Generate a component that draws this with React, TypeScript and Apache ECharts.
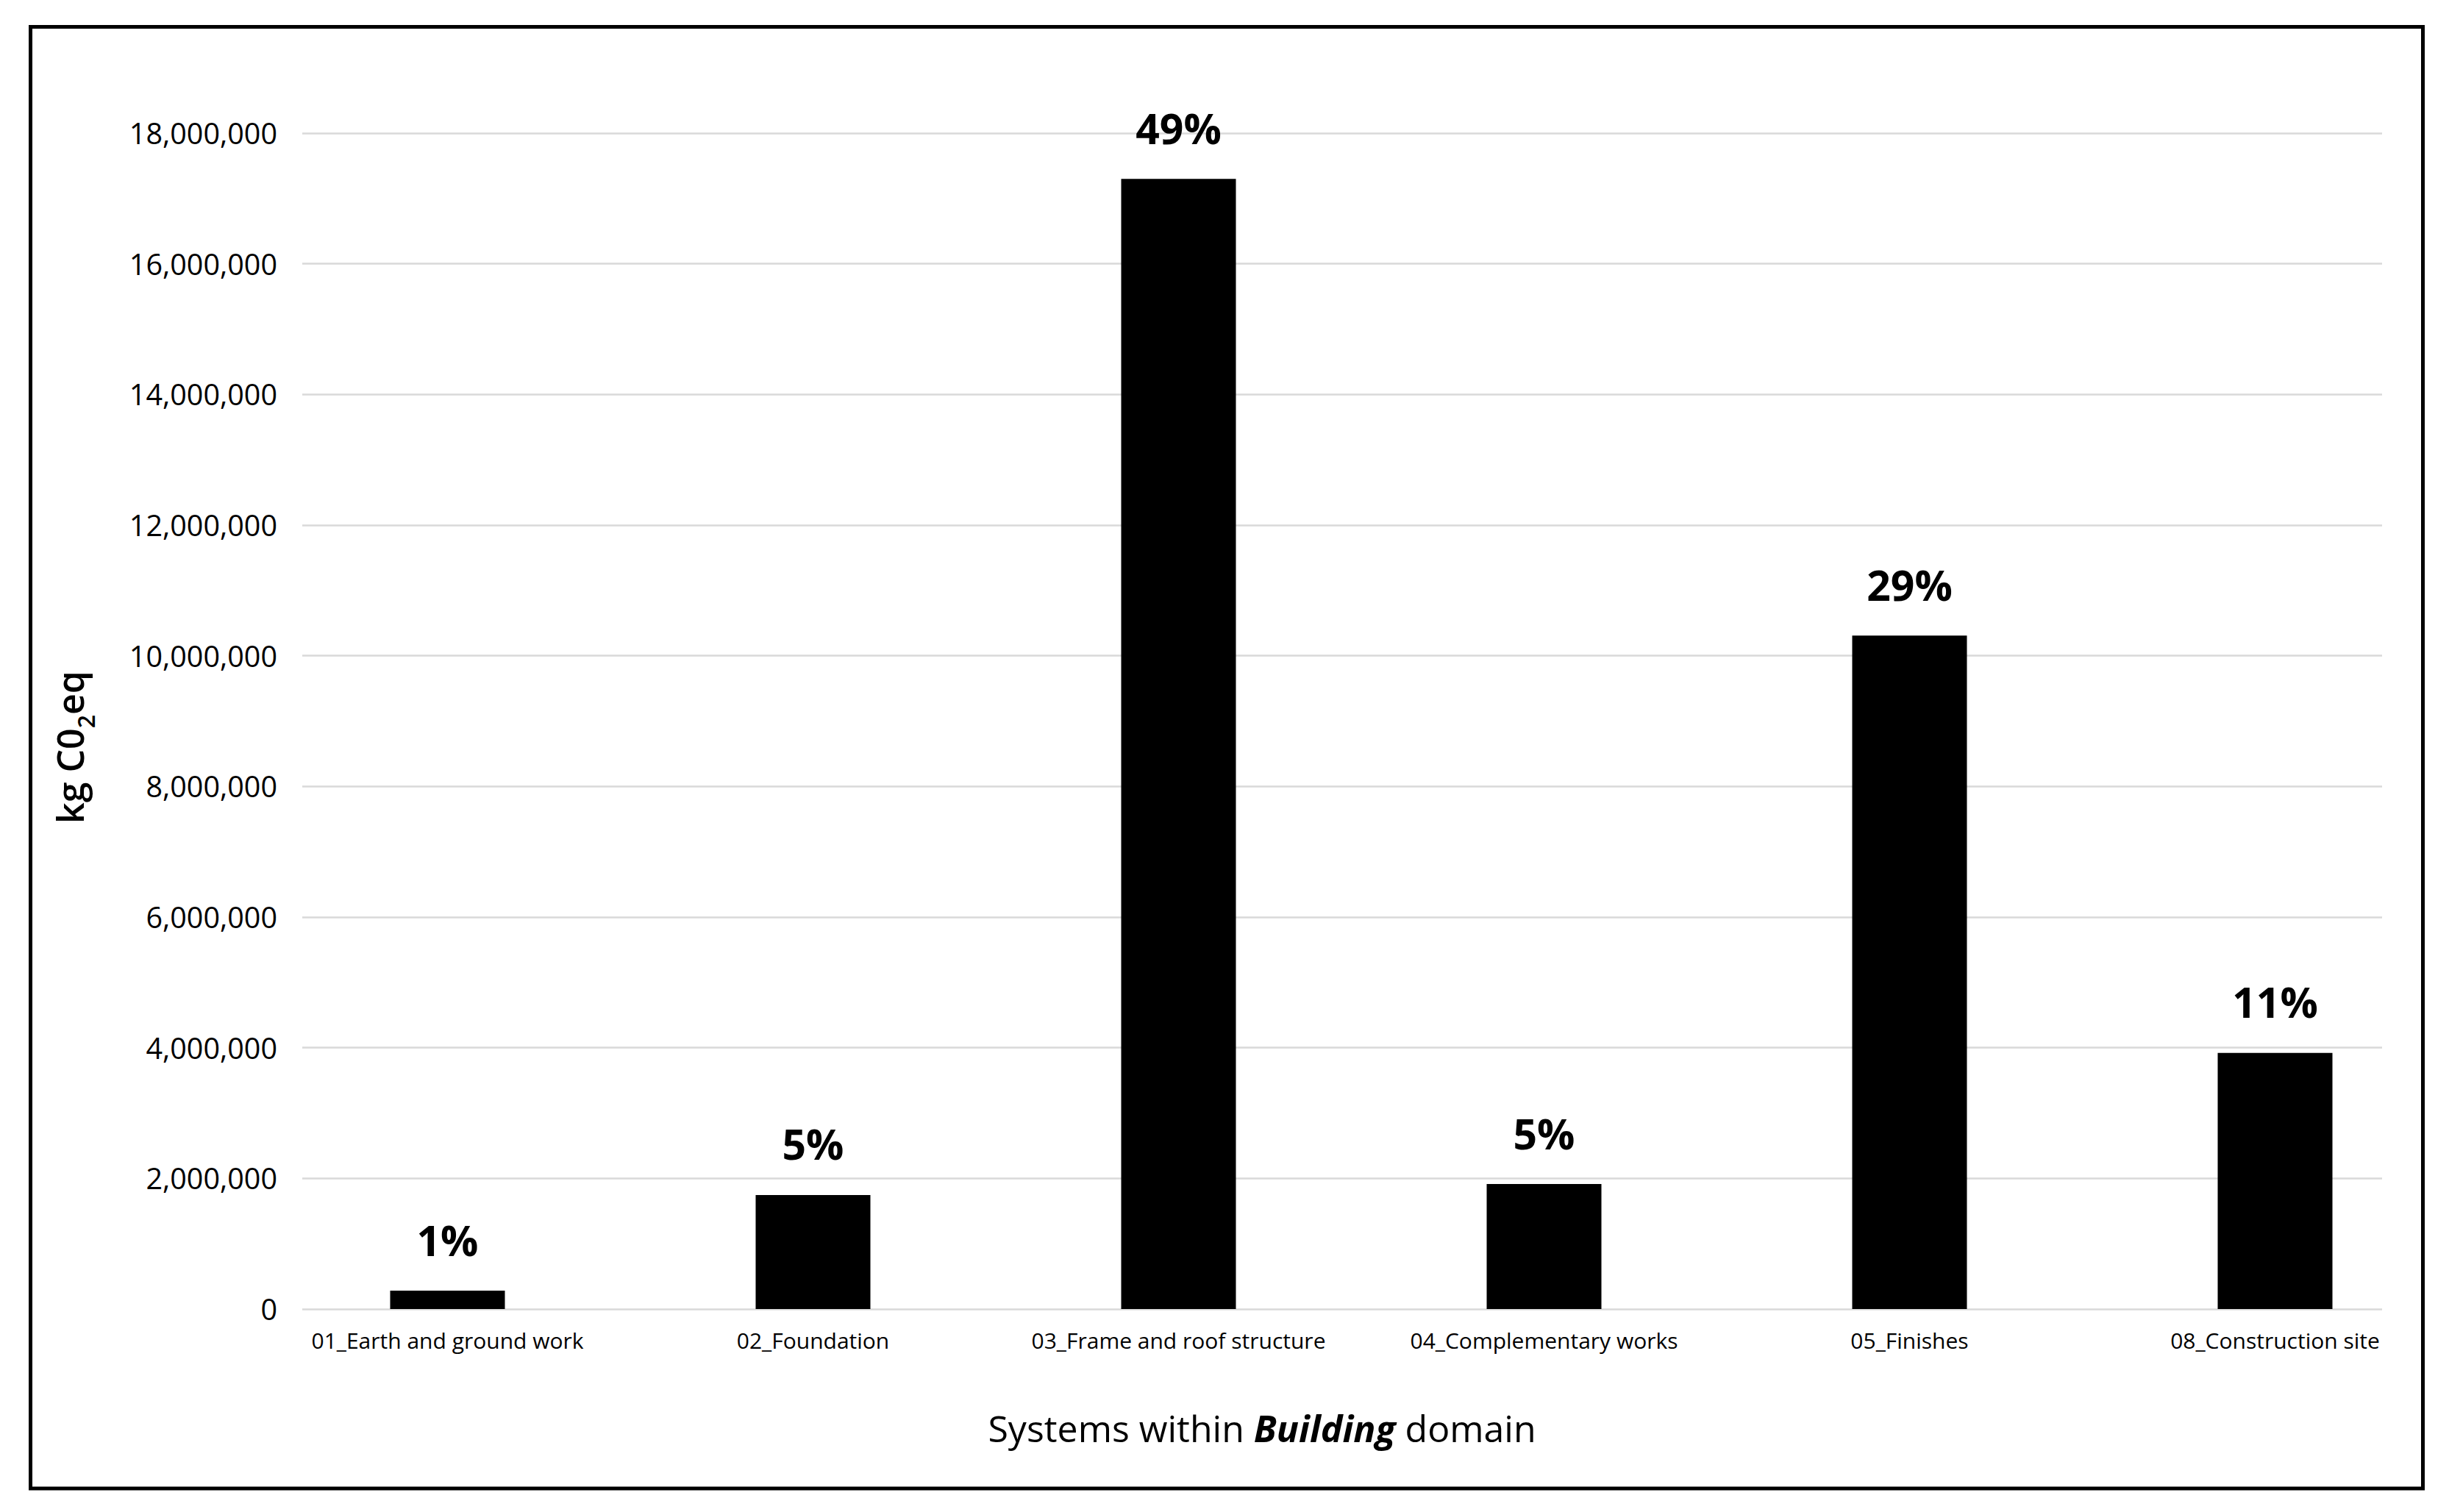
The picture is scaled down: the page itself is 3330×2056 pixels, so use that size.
import React, { useEffect, useRef } from "react";
import * as echarts from "echarts";

const categories = [
  "01_Earth and ground work",
  "02_Foundation",
  "03_Frame and roof structure",
  "04_Complementary works",
  "05_Finishes",
  "08_Construction site",
];
const values = [281000, 1745000, 17300000, 1913000, 10310000, 3920000];
const shareLabels = ["1%", "5%", "49%", "5%", "29%", "11%"];
const yMin = 0;
const yMax = 18000000;
const yInterval = 2000000;

const FONT = "'Open Sans', 'Noto Sans', sans-serif";

export default function App() {
  const ref = useRef<HTMLDivElement>(null);
  useEffect(() => {
    document.body.style.margin = "0";
    document.body.style.overflow = "hidden";
    const chart = echarts.init(ref.current!, null, { renderer: "svg" });
    const gridTop = 181;
    const gridBottom = 276;
    chart.setOption({
      animation: false,
      backgroundColor: "#ffffff",
      textStyle: { fontFamily: FONT },
      grid: [
        { left: 411, width: 2828, top: gridTop, bottom: gridBottom, containLabel: false },
        { left: 360, width: 2982, top: gridTop, bottom: gridBottom, containLabel: false },
      ],
      xAxis: [
        {
          type: "category",
          gridIndex: 0,
          data: categories,
          show: false,
        },
        {
          type: "category",
          gridIndex: 1,
          data: categories,
          axisLine: { show: false },
          axisTick: { show: false },
          axisLabel: {
            margin: 27,
            fontSize: 30,
            color: "#000",
            fontFamily: FONT,
            interval: 0,
          },
        },
      ],
      yAxis: [
        {
          type: "value",
          gridIndex: 0,
          min: yMin,
          max: yMax,
          interval: yInterval,
          axisLine: { show: false },
          axisTick: { show: false },
          axisLabel: {
            margin: 34,
            fontSize: 39.5,
            color: "#000",
            fontFamily: FONT,
            formatter: (v: number) => v.toLocaleString("en-US"),
          },
          splitLine: { show: true, lineStyle: { color: "#d9d9d9", width: 2.5 } },
        },
        {
          type: "value",
          gridIndex: 1,
          min: yMin,
          max: yMax,
          interval: yInterval,
          show: false,
          splitLine: { show: false },
        },
      ],
      series: [
        {
          type: "bar",
          xAxisIndex: 1,
          yAxisIndex: 1,
          data: values,
          barWidth: 156,
          itemStyle: { color: "#000000" },
          label: {
            show: true,
            position: "top",
            distance: 41,
            fontSize: 57,
            fontWeight: "bold",
            color: "#000",
            fontFamily: FONT,
            formatter: (p: any) => shareLabels[p.dataIndex],
          },
        },
      ],
      graphic: [
        {
          type: "rect",
          z: -1,
          shape: { x: 41.5, y: 36.5, width: 3253, height: 1987.5 },
          style: { fill: "none", stroke: "#000", lineWidth: 5 },
        },
        {
          type: "text",
          x: 1716,
          y: 1942,
          style: {
            text: "{n|Systems within }{b|Building}{n| domain}",
            align: "center",
            verticalAlign: "middle",
            rich: {
              n: { fontSize: 50, fontFamily: FONT, color: "#000" },
              b: { fontSize: 50, fontFamily: FONT, color: "#000", fontWeight: "bold", fontStyle: "italic" },
            },
          },
        },
        {
          type: "text",
          x: 95,
          y: 1016,
          rotation: Math.PI / 2,
          style: {
            text: "{a|kg C0}{s|2}{a|eq}",
            align: "center",
            verticalAlign: "middle",
            rich: {
              a: { fontSize: 50, lineHeight: 50, fontFamily: FONT, color: "#000", fontWeight: 600, verticalAlign: "top" },
              s: { fontSize: 32, lineHeight: 32, fontFamily: FONT, color: "#000", fontWeight: 600, verticalAlign: "top", padding: [30, 0, 0, 0] },
            },
          },
        },
      ],
    });
    return () => chart.dispose();
  }, []);
  return <div ref={ref} style={{ width: 3420, height: 2056 }} />;
}
